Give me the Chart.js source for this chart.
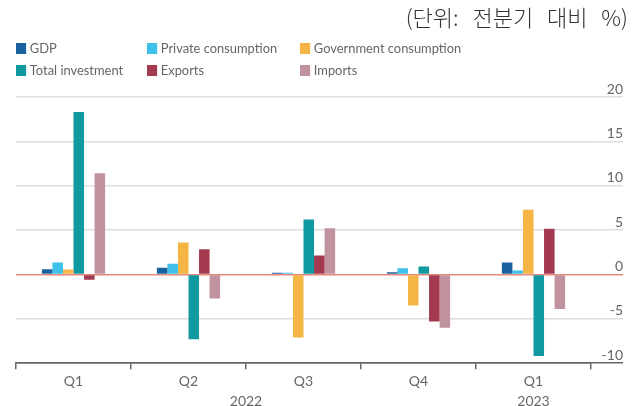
<!DOCTYPE html>
<html>
<head>
<meta charset="utf-8">
<script src="https://cdn.jsdelivr.net/npm/chart.js@4"></script>
<style>
  html, body { margin: 0; padding: 0; background: #fff; }
  #wrap { position: relative; width: 639px; height: 406px; }
  #unit {
    position: absolute; right: 11px; top: 0px;
    font: 300 22px "Noto Sans CJK KR", sans-serif; color: #333;
    word-spacing: 9px; white-space: nowrap;
  }
  #legend { position: absolute; left: 16px; top: 40px; font: 14px Lato, sans-serif; color: #666; }
  .item { position: absolute; white-space: nowrap; line-height: 16px; transform: scaleX(0.92); transform-origin: 0 50%; }
  .item i { display: inline-block; width: 11px; height: 11px; margin-right: 4px; vertical-align: -1px; }
</style>
</head>
<body>
<div id="wrap">
  <canvas id="gdpChart" width="639" height="406"></canvas>
  <div id="unit">(단위: 전분기 대비 %)</div>
  <div id="legend"></div>
</div>
<script>
// 분기별 성장 기여 (전분기 대비 %)
const quarters = ['Q1', 'Q2', 'Q3', 'Q4', 'Q1'];
const years = ['2022', '2022', '2022', '2022', '2023'];

const gdp = [0.6, 0.75, 0.2, 0.25, 1.35];
const privateConsumption = [1.35, 1.2, 0.2, 0.7, 0.45];
const governmentConsumption = [0.55, 3.6, -7.1, -3.5, 7.3];
const totalInvestment = [18.3, -7.3, 6.2, 0.9, -9.2];
const exportsGrowth = [-0.6, 2.85, 2.15, -5.3, 5.15];
const importsGrowth = [11.4, -2.7, 5.2, -6.0, -3.9];

const yTicks = [-10, -5, 0, 5, 10, 15, 20];

// 연도 라벨: 같은 연도의 분기들 가운데에 표시
const yearLabels = {
  id: 'yearLabels',
  afterDraw(chart) {
    const x = chart.scales.x;
    const ctx = chart.ctx;
    ctx.save();
    ctx.font = '14px Lato, sans-serif';
    ctx.fillStyle = '#666';
    ctx.textAlign = 'center';
    ctx.textBaseline = 'middle';
    let start = 0;
    for (let i = 1; i <= years.length; i++) {
      if (i === years.length || years[i] !== years[start]) {
        const mid = (x.getPixelForValue(start) + x.getPixelForValue(i - 1)) / 2;
        ctx.fillText(years[start], mid, 401);
        start = i;
      }
    }
    ctx.restore();
  }
};

const ctx = document.getElementById('gdpChart').getContext('2d');
const gdpChart = new Chart(ctx, {
  type: 'bar',
  data: {
    labels: quarters,
    datasets: [
      { label: 'GDP', data: gdp, backgroundColor: '#1b63a0' },
      { label: 'Private consumption', data: privateConsumption, backgroundColor: '#3ec0e8' },
      { label: 'Government consumption', data: governmentConsumption, backgroundColor: '#f4b544' },
      { label: 'Total investment', data: totalInvestment, backgroundColor: '#10999f' },
      { label: 'Exports', data: exportsGrowth, backgroundColor: '#a33a4f' },
      { label: 'Imports', data: importsGrowth, backgroundColor: '#c0939f' }
    ]
  },
  options: {
    responsive: false,
    animation: false,
    categoryPercentage: 0.55,
    barPercentage: 1,
    layout: { padding: { left: 16, right: 16, top: 97, bottom: 12 } },
    plugins: {
      legend: { display: false },
      tooltip: { enabled: false }
    },
    scales: {
      x: {
        border: { display: true, color: '#666', width: 1.5 },
        grid: { display: true, drawOnChartArea: false, drawTicks: true, tickLength: 6, color: '#666', lineWidth: 1.5 },
        ticks: { padding: 4, color: '#666', font: { family: 'Lato', size: 14 } }
      },
      y: {
        position: 'right',
        min: -10,
        max: 20,
        afterBuildTicks: (scale) => { scale.ticks = yTicks.map(v => ({ value: v })); },
        afterFit: (scale) => { scale.width = 32; },
        border: { display: false },
        grid: {
          tickLength: 32,
          color: (c) => c.tick.value === 0 ? '#e8877c' : (c.tick.value === -10 ? '#666' : '#dedede'),
          lineWidth: 1.5
        },
        ticks: {
          mirror: true,
          padding: 32,
          labelOffset: -8,
          color: '#666',
          font: { family: 'Lato', size: 14 }
        }
      }
    }
  },
  plugins: [yearLabels]
});

// 범례: 3열 2행
const legendCols = [0, 131, 284];
const legendRows = [0, 22];
const legend = document.getElementById('legend');
gdpChart.data.datasets.forEach((ds, i) => {
  const el = document.createElement('div');
  el.className = 'item';
  el.style.left = legendCols[i % 3] + 'px';
  el.style.top = legendRows[Math.floor(i / 3)] + 'px';
  el.innerHTML = '<i style="background:' + ds.backgroundColor + '"></i>' + ds.label;
  legend.appendChild(el);
});
</script>
</body>
</html>
